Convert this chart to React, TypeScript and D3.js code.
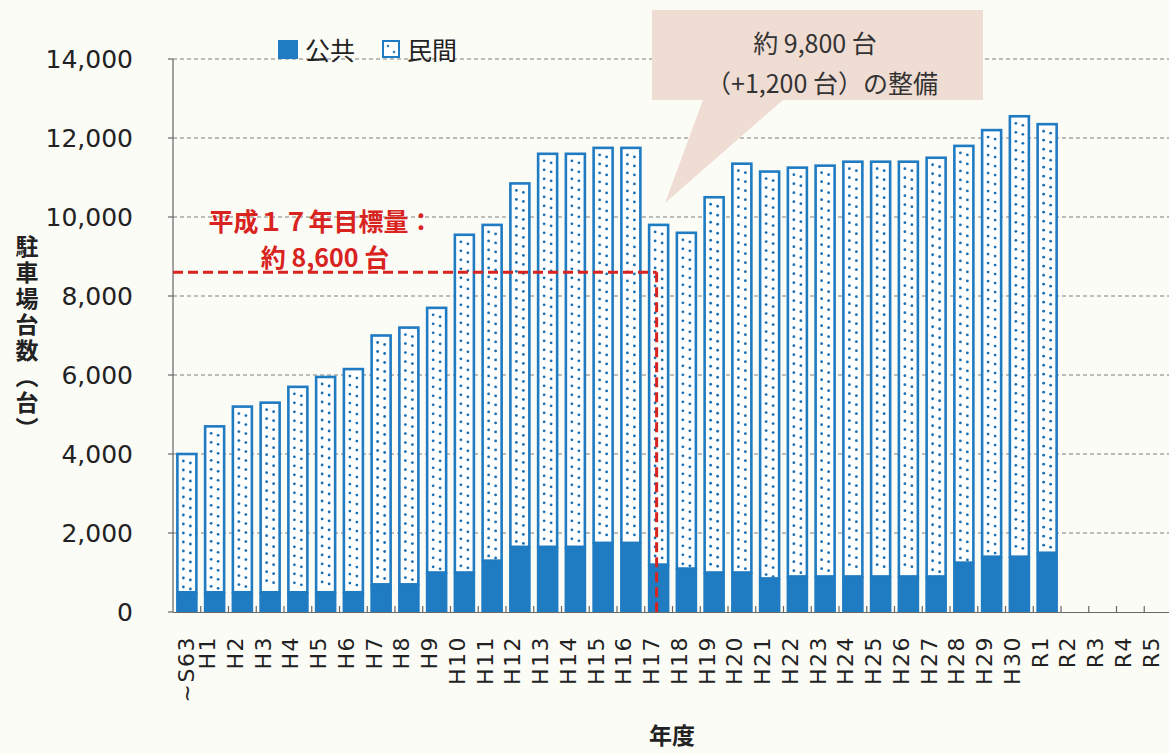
import React from "react";
import * as d3 from "d3";

const categories = ["~S63","H1","H2","H3","H4","H5","H6","H7","H8","H9","H10","H11","H12","H13","H14","H15","H16","H17","H18","H19","H20","H21","H22","H23","H24","H25","H26","H27","H28","H29","H30","R1","R2","R3","R4","R5"];
const totalValues = [4000,4700,5200,5300,5700,5950,6150,7000,7200,7700,9550,9800,10850,11600,11600,11750,11750,9800,9600,10500,11350,11150,11250,11300,11400,11400,11400,11500,11800,12200,12550,12350];
const publicValues = [500,500,500,500,500,500,500,700,700,1000,1000,1300,1650,1650,1650,1750,1750,1200,1100,1000,1000,850,900,900,900,900,900,900,1250,1400,1400,1500];
const yTicks = [0,2000,4000,6000,8000,10000,12000,14000];
const targetValue = 8600;
const targetCategory = "H17";

const W = 1169, H = 754;
const BLUE = "#1f7bc2";
const RED = "#d8231f";
const JP = "'Noto Sans CJK JP', 'Noto Sans', sans-serif";
const NUM = "'DejaVu Sans', Verdana, sans-serif";

export default function App() {
  const x = d3.scaleBand<string>().domain(categories).range([173, 173 + categories.length * 27.75]).padding(0);
  const y = d3.scaleLinear().domain([0, 14000]).range([612, 59]);
  const bw = 19;
  const fmt = d3.format(",");
  const cx = (c: string) => (x(c) as number) + x.bandwidth() / 2;

  const bars = totalValues.map((t, i) => ({ cat: categories[i], total: t, pub: publicValues[i] }));
  const tx = cx(targetCategory) - 2;

  return (
    <svg width={W} height={H} style={{ position: "absolute", left: 0, top: 0, background: "#fcfcf7" }}>
      <rect x={0} y={0} width={W} height={H} fill="#fcfcf7" />
      {/* grid */}
      {yTicks.filter(t => t > 0).map(t => (
        <line key={t} x1={173} x2={W} y1={y(t)} y2={y(t)} stroke="#7d7d7d" strokeWidth={1.2} strokeDasharray="4,3" />
      ))}
      {/* bars */}
      {bars.map(b => {
        const l = cx(b.cat) - bw / 2;
        const top = y(b.total), mid = y(b.pub);
        const dots: JSX.Element[] = [];
        d3.range(top + 7, mid - 3, 9).forEach((dy, k) => {
          dots.push(<circle key={"a" + k} cx={l + 6} cy={dy} r={1.4} fill="#1a6fb3" />);
          dots.push(<circle key={"b" + k} cx={l + 13} cy={dy + 2} r={1.4} fill="#1a6fb3" />);
        });
        return (
          <g key={b.cat}>
            <rect x={l} y={top} width={bw} height={mid - top} fill="#ffffff" stroke={BLUE} strokeWidth={2.6} />
            {dots}
            <rect x={l - 1.3} y={mid} width={bw + 2.6} height={y(0) - mid} fill={BLUE} />
          </g>
        );
      })}
      {/* axes */}
      <line x1={173} x2={173} y1={y(14000)} y2={y(0)} stroke="#666" strokeWidth={1.2} />
      {yTicks.map(t => (
        <line key={"yt" + t} x1={168} x2={173} y1={y(t)} y2={y(t)} stroke="#666" strokeWidth={1.2} />
      ))}
      <line x1={173} x2={W} y1={y(0) + 0.5} y2={y(0) + 0.5} stroke="#666" strokeWidth={1.2} />
      {categories.slice(1).map(c => (
        <line key={"xt" + c} x1={x(c) as number} x2={x(c) as number} y1={y(0)} y2={y(0) - 6} stroke="#666" strokeWidth={1.2} />
      ))}
      {yTicks.map(t => (
        <text key={"yl" + t} x={133} y={y(t)} textAnchor="end" dominantBaseline="central" fontFamily={NUM} fontSize={25} fill="#222">{fmt(t)}</text>
      ))}
      {categories.map((c, i) => {
        const lx = cx(c) + (i === 0 ? 0 : -7);
        return (
          <text key={"xl" + c} transform={`translate(${lx},636) rotate(-90)`} textAnchor="end" dominantBaseline="central" fontFamily={NUM} fontSize={22} letterSpacing={1.5} fill="#222">{c}</text>
        );
      })}
      <text x={672} y={744} textAnchor="middle" fontFamily={JP} fontWeight={700} fontSize={23} fill="#222">年度</text>
      <text x={27} y={235} fontFamily={JP} fontWeight={700} fontSize={23} fill="#222" letterSpacing={3} style={{ writingMode: "vertical-rl" as any }}>駐車場台数（台）</text>
      {/* target */}
      <line x1={173} x2={tx} y1={y(targetValue)} y2={y(targetValue)} stroke={RED} strokeWidth={3} strokeDasharray="10,5" />
      <line x1={tx} x2={tx} y1={y(targetValue)} y2={y(0)} stroke={RED} strokeWidth={3} strokeDasharray="10,5" />
      <text x={321} y={220} textAnchor="middle" dominantBaseline="central" fontFamily={JP} fontWeight={700} fontSize={25} fill={RED}>平成１７年目標量：</text>
      <text x={325} y={256} textAnchor="middle" dominantBaseline="central" fontFamily={JP} fontWeight={700} fontSize={25} fill={RED}>約 8,600 台</text>
      {/* callout */}
      <path d="M652,10 L983,10 L983,100 L783,100 L665,203 L703,100 L652,100 Z" fill="#efdcd3" />
      <text x={815} y={42} textAnchor="middle" dominantBaseline="central" fontFamily={JP} fontSize={25} fill="#333">約 9,800 台</text>
      <text x={822} y={82} textAnchor="middle" dominantBaseline="central" fontFamily={JP} fontSize={25} fill="#333">（+1,200 台）の整備</text>
      {/* legend */}
      <rect x={278} y={40} width={20} height={19} fill={BLUE} />
      <text x={305} y={49} dominantBaseline="central" fontFamily={JP} fontSize={25} fill="#222">公共</text>
      <rect x={383} y={41} width={16} height={16} fill="#fff" stroke={BLUE} strokeWidth={2} />
      <circle cx={388} cy={46} r={1.2} fill={BLUE} />
      <circle cx={394} cy={52} r={1.2} fill={BLUE} />
      <text x={407} y={49} dominantBaseline="central" fontFamily={JP} fontSize={25} fill="#222">民間</text>
    </svg>
  );
}
